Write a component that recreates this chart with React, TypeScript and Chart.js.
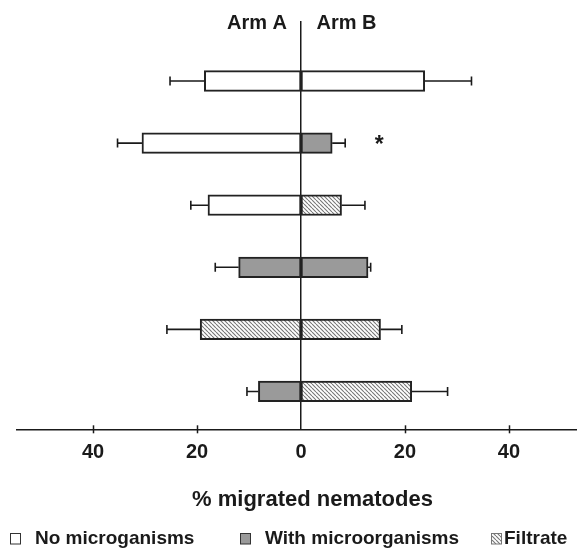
import React, { useEffect, useRef } from "react";
import { Chart, registerables } from "chart.js";

Chart.register(...registerables);

// ---- data (top row first) ----
const rows = ["Row 1", "Row 2", "Row 3", "Row 4", "Row 5", "Row 6"];
const armA = [18.6, 30.6, 17.9, 12.0, 19.4, 8.2];
const armAErr = [6.6, 4.7, 3.3, 4.5, 6.4, 2.2];
const armB = [23.8, 6.0, 7.8, 12.9, 15.3, 21.3];
const armBErr = [9.0, 2.5, 4.5, 0.5, 4.1, 6.9];
const armAType = ["none", "none", "none", "with", "filtrate", "with"];
const armBType = ["none", "with", "filtrate", "with", "filtrate", "filtrate"];
const significance = ["", "*", "", "", "", ""];
const tickValues = [-40, -20, 0, 20, 40];
const armLabels = ["Arm A", "Arm B"];
const xTitle = "% migrated nematodes";
const legendLabels = ["No microganisms", "With microorganisms", "Filtrate"];
const legendTypes = ["none", "with", "filtrate"];

const FONT = "'Liberation Sans', Arial, Helvetica, sans-serif";
const INK = "#1a1a1a";
const GRAY = "#9a9a9a";

function makeHatch(ctx: CanvasRenderingContext2D): CanvasPattern | string {
  const c = document.createElement("canvas");
  c.width = 4;
  c.height = 4;
  const p = c.getContext("2d");
  if (!p) return "#ccc";
  p.fillStyle = "#ffffff";
  p.fillRect(0, 0, 4, 4);
  p.strokeStyle = "#777777";
  p.lineWidth = 1.1;
  p.beginPath();
  for (const k of [-4, 0, 4]) {
    p.moveTo(k, 0);
    p.lineTo(k + 4, 4);
  }
  p.stroke();
  return ctx.createPattern(c, "repeat") || "#ccc";
}

export default function App() {
  const ref = useRef<HTMLCanvasElement | null>(null);

  useEffect(() => {
    const canvas = ref.current;
    if (!canvas) return;
    const ctx0 = canvas.getContext("2d") as CanvasRenderingContext2D;
    const hatch = makeHatch(ctx0);
    const fillOf = (t: string) => (t === "with" ? GRAY : t === "filtrate" ? hatch : "#ffffff");

    const overlay = {
      id: "overlay",
      afterDatasetsDraw(chart: any) {
        const { ctx } = chart;
        const x = chart.scales.x;
        ctx.save();
        ctx.strokeStyle = INK;
        ctx.lineWidth = 1.6;
        [armAErr, armBErr].forEach((errs, d) => {
          const meta = chart.getDatasetMeta(d);
          const vals = d === 0 ? armA : armB;
          const sign = d === 0 ? -1 : 1;
          meta.data.forEach((bar: any, i: number) => {
            const end = x.getPixelForValue(sign * (vals[i] + errs[i]));
            ctx.beginPath();
            ctx.moveTo(bar.x, bar.y);
            ctx.lineTo(end, bar.y);
            ctx.moveTo(end, bar.y - 4.5);
            ctx.lineTo(end, bar.y + 4.5);
            ctx.stroke();
            if (d === 1 && significance[i]) {
              ctx.fillStyle = INK;
              ctx.font = `bold 23px ${FONT}`;
              ctx.textAlign = "center";
              ctx.textBaseline = "middle";
              ctx.fillText(significance[i], end + 34, bar.y + 3);
            }
          });
        });
        ctx.restore();
      },
      afterDraw(chart: any) {
        const { ctx, chartArea } = chart;
        const x = chart.scales.x;
        const zero = x.getPixelForValue(0);
        ctx.save();
        // crossing tick marks
        ctx.strokeStyle = INK;
        ctx.lineWidth = 1.5;
        tickValues.forEach((v) => {
          if (v === 0) return;
          const px = Math.round(x.getPixelForValue(v)) + 0.5;
          ctx.beginPath();
          ctx.moveTo(px, chartArea.bottom - 4);
          ctx.lineTo(px, chartArea.bottom + 4);
          ctx.stroke();
        });
        ctx.fillStyle = INK;
        // arm labels
        ctx.font = `bold 20px ${FONT}`;
        ctx.textBaseline = "alphabetic";
        ctx.textAlign = "right";
        ctx.fillText(armLabels[0], zero - 14, 29);
        ctx.textAlign = "left";
        ctx.fillText(armLabels[1], zero + 15.5, 29);
        // axis title
        ctx.font = `bold 22px ${FONT}`;
        ctx.textAlign = "center";
        ctx.fillText(xTitle, 312.5, 506);
        // legend
        const boxX = [10, 240, 491];
        const textX = [35, 265, 504];
        ctx.font = `bold 19px ${FONT}`;
        ctx.textAlign = "left";
        legendLabels.forEach((lab, i) => {
          ctx.fillStyle = fillOf(legendTypes[i]);
          ctx.fillRect(boxX[i], 533, 10, 11);
          ctx.strokeStyle = legendTypes[i] === "filtrate" ? "#777" : "#333";
          ctx.lineWidth = 1;
          ctx.strokeRect(boxX[i] + 0.5, 533.5, 10, 10.5);
          ctx.fillStyle = INK;
          ctx.fillText(lab, textX[i], 544);
        });
        ctx.restore();
      },
    };

    const chart = new Chart(canvas, {
      type: "bar",
      data: {
        labels: rows,
        datasets: [
          {
            label: armLabels[0],
            data: armA.map((v, i) => ({ x: -v, y: i })) as any,
            backgroundColor: armAType.map(fillOf) as any,
            borderColor: "#222222",
            borderWidth: 2,
            borderSkipped: false,
            barThickness: 20.6,
            grouped: false,
          },
          {
            label: armLabels[1],
            data: armB.map((v, i) => ({ x: v, y: i })) as any,
            backgroundColor: armBType.map(fillOf) as any,
            borderColor: "#222222",
            borderWidth: 2,
            borderSkipped: false,
            barThickness: 20.6,
            grouped: false,
          },
        ],
      },
      options: {
        indexAxis: "y",
        responsive: false,
        animation: false,
        layout: { padding: { top: 21.7, left: 16.7, right: 0, bottom: 0 } },
        plugins: { legend: { display: false }, tooltip: { enabled: false } },
        scales: {
          x: {
            type: "linear",
            min: -54.7,
            max: 53.1,
            grid: { display: false, drawTicks: false },
            border: { display: true, color: INK, width: 1.5 },
            afterBuildTicks: (s: any) => {
              s.ticks = tickValues.map((v) => ({ value: v }));
            },
            afterFit: (s: any) => {
              s.height = 119.7;
            },
            ticks: {
              autoSkip: false,
              maxRotation: 0,
              padding: 11,
              color: INK,
              font: { family: FONT, size: 20, weight: "bold" },
              callback: (v: any) => String(Math.abs(Number(v))),
            },
          },
          y: {
            type: "linear",
            min: -0.955,
            max: 5.609,
            reverse: true,
            offset: false,
            position: { x: 0 } as any,
            z: 1,
            grid: { display: false, drawTicks: false, offset: false },
            ticks: { display: false },
            border: { display: true, color: INK, width: 1.5 },
          },
        },
      } as any,
      plugins: [overlay],
    });
    return () => chart.destroy();
  }, []);

  return (
    <div style={{ position: "absolute", left: 0, top: 0, width: 577, height: 549 }}>
      <canvas ref={ref} width={577} height={549} style={{ width: 577, height: 549, display: "block" }} />
    </div>
  );
}
